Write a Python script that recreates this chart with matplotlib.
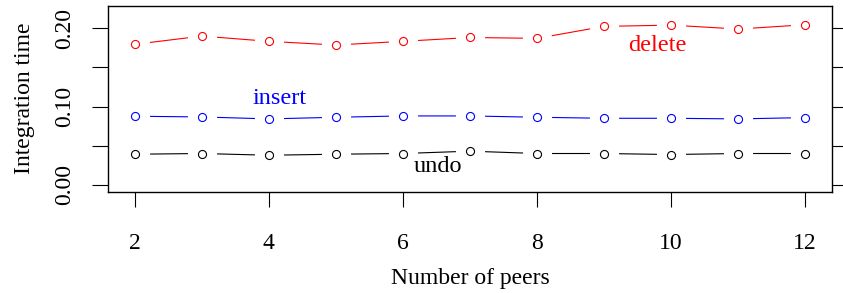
import numpy as np
import matplotlib
matplotlib.use("Agg")
import matplotlib.pyplot as plt

plt.rcParams['font.family'] = ['Liberation Serif', 'DejaVu Serif']

peers = [2, 3, 4, 5, 6, 7, 8, 9, 10, 11, 12]
delete = [0.1795, 0.190, 0.1833, 0.1786, 0.1833, 0.1882, 0.1871, 0.2024, 0.204, 0.199, 0.2045]
insert = [0.0876, 0.0867, 0.0842, 0.0863, 0.088, 0.088, 0.0863, 0.085, 0.085, 0.0842, 0.0859]
undo = [0.0391, 0.040, 0.0378, 0.0391, 0.040, 0.043, 0.040, 0.040, 0.0387, 0.040, 0.040]

yticks = [0.0, 0.05, 0.10, 0.15, 0.20]
ytick_labels = ['0.00', '', '0.10', '', '0.20']
xticks = [2, 4, 6, 8, 10, 12]

fig = plt.figure(figsize=(8.43, 2.93), dpi=100)
ax = fig.add_axes([0.1281, 0.3457, 0.8589, 0.6348])

# R style type="b": lines with gaps around the open circles
for vals, col in [(delete, '#ff0000'), (insert, '#0000ff'), (undo, 'black')]:
    ax.plot(peers, vals, color=col, lw=0.8, zorder=2)
    ax.plot(peers, vals, ls='none', marker='o', ms=21, mfc='white', mec='none', zorder=3)
    ax.plot(peers, vals, ls='none', marker='o', ms=5.8, mfc='none', mec=col, mew=0.8, zorder=4)

ax.text(4.16, 0.1097, 'insert', color='#0000ff', fontsize=17.5, ha='center', va='center', zorder=5)
ax.text(6.52, 0.0234, 'undo', color='black', fontsize=17.5, ha='center', va='center', zorder=5)
ax.text(9.8, 0.1777, 'delete', color='#ff0000', fontsize=17.5, ha='center', va='center', zorder=5)

ax.set_xlim(1.6, 12.4)
ax.set_ylim(-0.0088, 0.2288)
ax.set_xticks(xticks)
ax.set_xticklabels([str(v) for v in xticks])
ax.set_yticks(yticks)
ax.set_yticklabels(ytick_labels, rotation=90, va='center')

ax.tick_params(axis='x', direction='out', length=11, width=0.8, labelsize=17, pad=19)
ax.tick_params(axis='y', direction='out', length=11.5, width=0.8, labelsize=17, pad=12,
               right=True, labelright=False)

for s in ax.spines.values():
    s.set_linewidth(1.0)

ax.set_xlabel('Number of peers', fontsize=17, labelpad=10)
ax.set_ylabel('Integration time', fontsize=17, labelpad=14)

fig.savefig('out.png', dpi=100)
